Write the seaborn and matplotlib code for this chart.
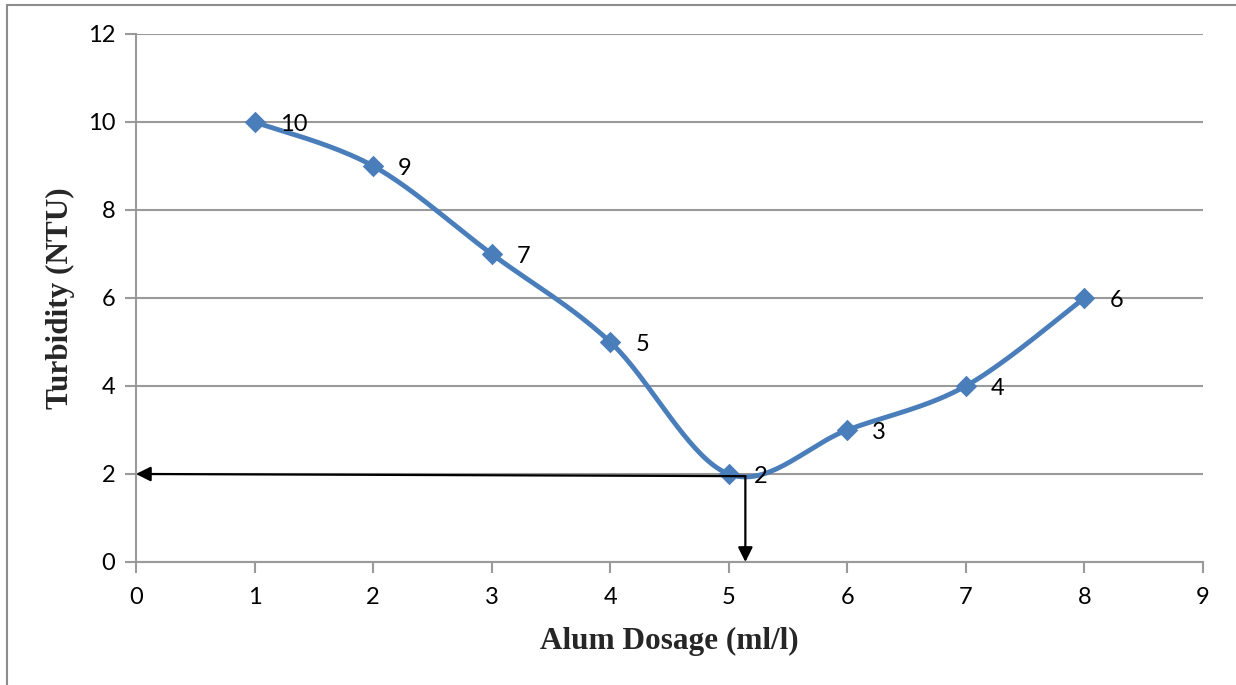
import numpy as np
import pandas as pd
import matplotlib
matplotlib.use("Agg")
import matplotlib.pyplot as plt
import seaborn as sns
from matplotlib.patches import Rectangle

# Jar test readings
alum_dosage = [1, 2, 3, 4, 5, 6, 7, 8]
turbidity = [10, 9, 7, 5, 2, 3, 4, 6]

# Optimum dose
optimum_dose = 5.14
optimum_turbidity = 2

x_ticks = [0, 1, 2, 3, 4, 5, 6, 7, 8, 9]
y_ticks = [0, 2, 4, 6, 8, 10, 12]

LINE_BLUE = "#4A7EBB"
GRID_GREY = "#9A9A9A"


def smooth_curve(xs, ys, n=40, tension=1 / 6):
    """Bezier smoothing through every point, like office-style smoothed lines."""
    xs = np.asarray(xs, float)
    ys = np.asarray(ys, float)
    px = np.concatenate([[xs[0]], xs, [xs[-1]]])
    py = np.concatenate([[ys[0]], ys, [ys[-1]]])
    out_x, out_y = [], []
    t = np.linspace(0, 1, n)
    for i in range(1, len(px) - 2):
        p0 = np.array([px[i], py[i]])
        p3 = np.array([px[i + 1], py[i + 1]])
        p1 = p0 + tension * (np.array([px[i + 1], py[i + 1]]) - np.array([px[i - 1], py[i - 1]]))
        p2 = p3 - tension * (np.array([px[i + 2], py[i + 2]]) - np.array([px[i], py[i]]))
        b = ((1 - t) ** 3)[:, None] * p0 + (3 * (1 - t) ** 2 * t)[:, None] * p1 \
            + (3 * (1 - t) * t ** 2)[:, None] * p2 + (t ** 3)[:, None] * p3
        out_x.extend(b[:, 0])
        out_y.extend(b[:, 1])
    return np.array(out_x), np.array(out_y)


sns.set_theme(style="white")
plt.rcParams["font.family"] = ["Lato", "DejaVu Sans"]

fig = plt.figure(figsize=(12.36, 6.85), dpi=100)
ax = fig.add_axes([0.110, 0.1796, 0.8633, 0.7708])

# Outer chart frame
fig.patches.append(Rectangle((7 / 1236, -0.05), 1.2, 1 - 5 / 685 + 0.05,
                             transform=fig.transFigure, fill=False,
                             edgecolor="#8C8C8C", linewidth=1.5, zorder=0))

df = pd.DataFrame({"dose": alum_dosage, "ntu": turbidity})
cx, cy = smooth_curve(alum_dosage, turbidity)
curve = pd.DataFrame({"dose": cx, "ntu": cy})

sns.lineplot(data=curve, x="dose", y="ntu", sort=False, color=LINE_BLUE,
             linewidth=3.5, ax=ax, zorder=3)
sns.scatterplot(data=df, x="dose", y="ntu", marker="D", s=120, color=LINE_BLUE,
                edgecolor=LINE_BLUE, linewidth=0, ax=ax, zorder=4)

for xv, yv in zip(alum_dosage, turbidity):
    ax.annotate(str(yv), (xv, yv), xytext=(18, -2), textcoords="offset points",
                ha="left", va="center", fontsize=17, color="black", zorder=5)

# Arrows marking the optimum dose
ax.annotate("", xy=(0, optimum_turbidity), xytext=(optimum_dose, optimum_turbidity - 0.05),
            arrowprops=dict(arrowstyle="-|>", color="black", lw=1.6,
                            mutation_scale=22, shrinkA=0, shrinkB=0), zorder=6)
ax.annotate("", xy=(optimum_dose, 0), xytext=(optimum_dose, optimum_turbidity - 0.05),
            arrowprops=dict(arrowstyle="-|>", color="black", lw=1.6,
                            mutation_scale=22, shrinkA=0, shrinkB=0), zorder=6)

ax.set_xlim(0, 9)
ax.set_ylim(0, 12)
ax.set_xticks(x_ticks)
ax.set_yticks(y_ticks)
ax.tick_params(axis="both", labelsize=17, colors=GRID_GREY, labelcolor="black",
               length=8, width=1.5, direction="out")
ax.tick_params(axis="x", bottom=True, pad=10)
ax.tick_params(axis="y", left=True, pad=7)

ax.yaxis.grid(True, color=GRID_GREY, linewidth=1.5)
ax.xaxis.grid(False)
for side in ["top", "right"]:
    ax.spines[side].set_visible(False)
for side in ["left", "bottom"]:
    ax.spines[side].set_color(GRID_GREY)
    ax.spines[side].set_linewidth(1.5)

ax.set_xlabel("Alum Dosage (ml/l)", fontsize=22.5, fontweight="bold",
              family="Liberation Serif", labelpad=14)
ax.set_ylabel("Turbidity (NTU)", fontsize=22.5, fontweight="bold",
              family="Liberation Serif", labelpad=9)

fig.savefig("out.png", dpi=100)
